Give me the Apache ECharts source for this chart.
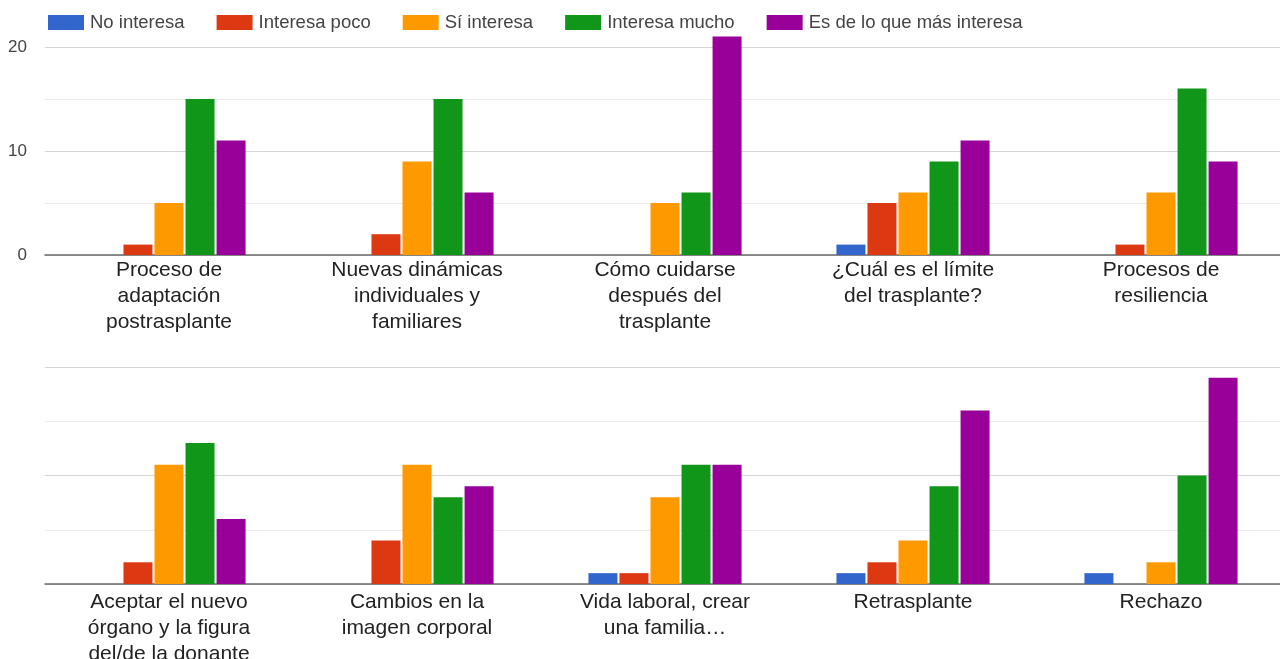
<!DOCTYPE html>
<html>
<head>
<meta charset="utf-8">
<script src="https://cdn.jsdelivr.net/npm/echarts@6/dist/echarts.min.js"></script>
<style>
  html, body { margin: 0; padding: 0; background: #fff; }
  #chart { width: 1280px; height: 659px; }
</style>
</head>
<body>
<div id="chart"></div>
<script>
// Categories (first 5 = upper panel, last 5 = lower panel)
const categories = [
  "Proceso de\nadaptación\npostrasplante",
  "Nuevas dinámicas\nindividuales y\nfamiliares",
  "Cómo cuidarse\ndespués del\ntrasplante",
  "¿Cuál es el límite\ndel trasplante?",
  "Procesos de\nresiliencia",
  "Aceptar el nuevo\nórgano y la figura\ndel/de la donante",
  "Cambios en la\nimagen corporal",
  "Vida laboral, crear\nuna familia…",
  "Retrasplante",
  "Rechazo"
];
const seriesNames = ["No interesa", "Interesa poco", "Sí interesa", "Interesa mucho", "Es de lo que más interesa"];
const noInteresa      = [0, 0, 0, 1, 0,   0, 0, 1, 1, 1];
const interesaPoco    = [1, 2, 0, 5, 1,   2, 4, 1, 2, 0];
const siInteresa      = [5, 9, 5, 6, 6,   11, 11, 8, 4, 2];
const interesaMucho   = [15, 15, 6, 9, 16, 13, 8, 11, 9, 10];
const esLoQueMas      = [11, 6, 21, 11, 9, 6, 9, 11, 16, 19];
const yTickLabels = [0, 10, 20];
const colors = ["#3366cc", "#dc3912", "#ff9900", "#109618", "#990099"];

const allValues = [noInteresa, interesaPoco, siInteresa, interesaMucho, esLoQueMas];
const font = "'Liberation Sans', Arial, sans-serif";

const chart = echarts.init(document.getElementById('chart'));

function xAxisFor(idx, cats, margin) {
  return {
    type: 'category', gridIndex: idx, data: cats,
    axisTick: { show: false },
    axisLine: { show: true, lineStyle: { color: '#6b6b6b', width: 1.5 } },
    axisLabel: {
      interval: 0, color: '#222', fontSize: 21, lineHeight: 26,
      fontFamily: font, margin: margin, align: 'center'
    }
  };
}
function yAxisFor(idx, showLabels) {
  return {
    type: 'value', gridIndex: idx, min: 0, max: 20, interval: 10,
    axisLine: { show: false }, axisTick: { show: false },
    axisLabel: {
      show: showLabels, color: '#444', fontSize: 17, fontFamily: font, margin: 18,
      formatter: v => yTickLabels.includes(v) ? String(v) : ''
    },
    splitLine: { show: true, lineStyle: { color: '#d6d6d6', width: 1 } },
    minorTick: { show: false, splitNumber: 2 },
    minorSplitLine: { show: true, lineStyle: { color: '#ececec', width: 1 } }
  };
}

const series = [];
[0, 1].forEach(g => {
  allValues.forEach((vals, i) => {
    series.push({
      name: seriesNames[i], type: 'bar',
      xAxisIndex: g, yAxisIndex: g,
      data: vals.slice(g * 5, g * 5 + 5),
      barWidth: 29, barGap: '7%',
      clip: false,
      itemStyle: { color: colors[i] },
      emphasis: { disabled: true }
    });
  });
});

chart.setOption({
  animation: false,
  color: colors,
  legend: {
    left: 43, top: 8, itemWidth: 36, itemHeight: 15, itemGap: 32, icon: 'rect',
    textStyle: { color: '#444', fontSize: 18.5, fontFamily: font, padding: [0, 0, 0, 1] },
    data: seriesNames
  },
  grid: [
    { left: 45, width: 1240, top: 47, height: 208, outerBoundsMode: 'none', containLabel: false },
    { left: 45, width: 1240, top: 367, height: 217, outerBoundsMode: 'none', containLabel: false }
  ],
  xAxis: [xAxisFor(0, categories.slice(0, 5), 2), xAxisFor(1, categories.slice(5), 5)],
  yAxis: [yAxisFor(0, true), yAxisFor(1, false)],
  series: series
});
</script>
</body>
</html>
